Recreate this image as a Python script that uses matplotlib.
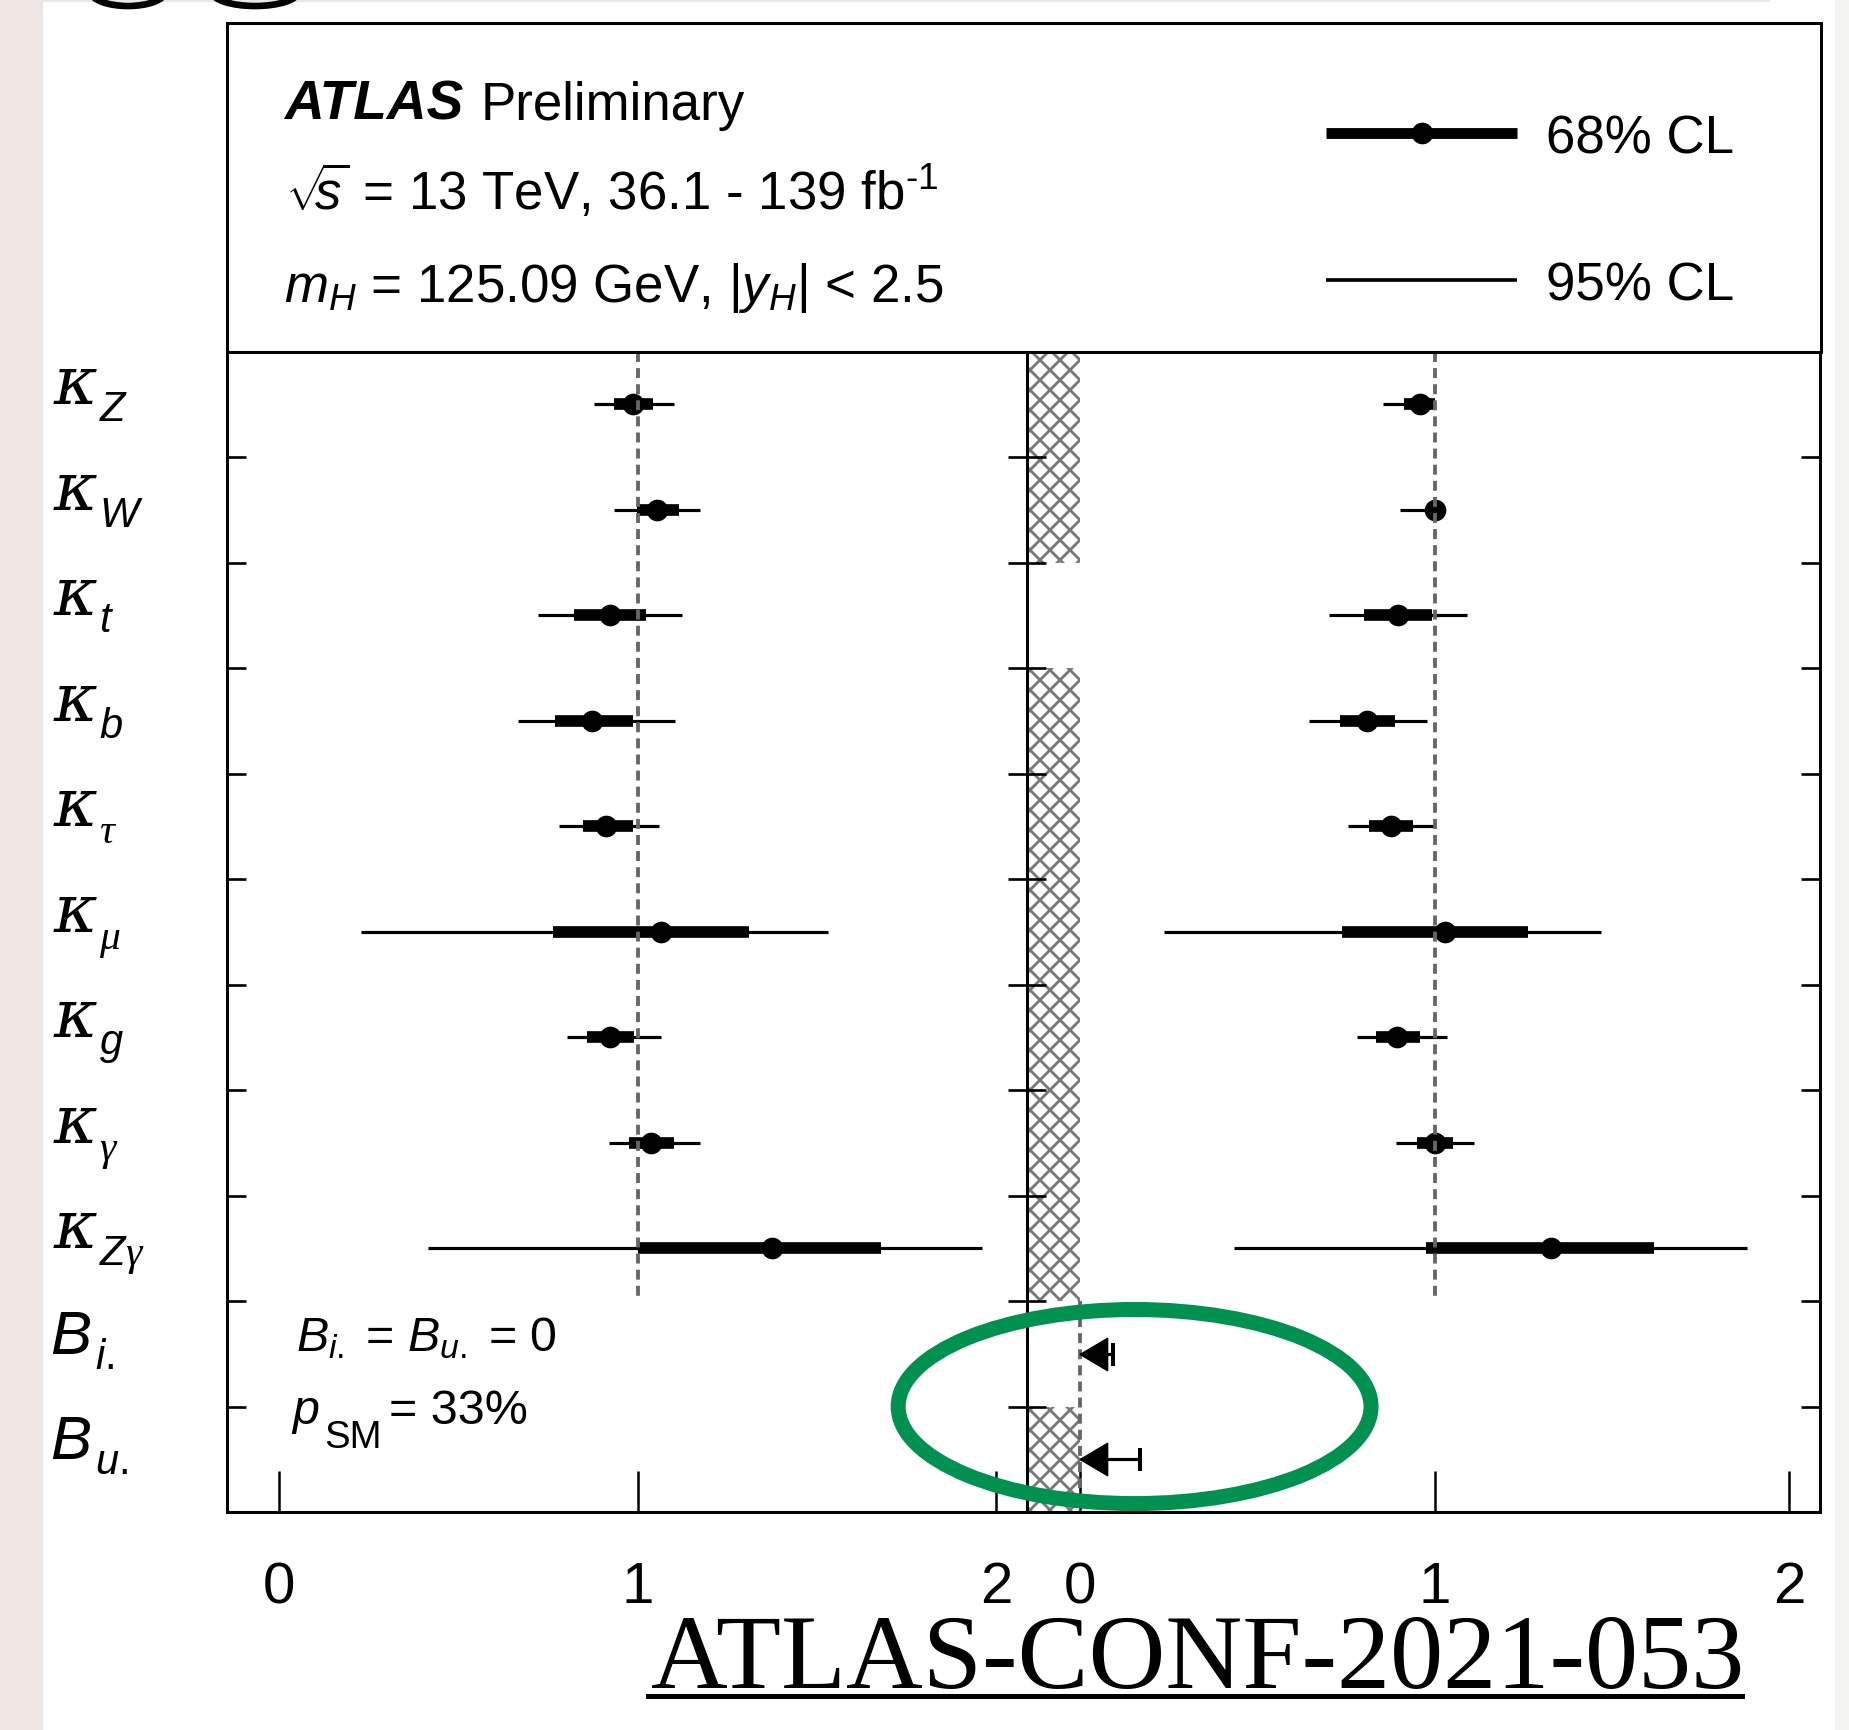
import matplotlib
matplotlib.use("Agg")
import matplotlib.pyplot as plt
import numpy as np
from matplotlib.patches import Ellipse, Rectangle, Arc
from matplotlib.lines import Line2D
from matplotlib.path import Path
from matplotlib.transforms import blended_transform_factory

plt.rcParams["font.family"] = ["Liberation Sans", "DejaVu Sans"]
plt.rcParams["mathtext.fontset"] = "custom"
plt.rcParams["mathtext.rm"] = "Liberation Sans"
plt.rcParams["mathtext.it"] = "Liberation Sans:italic"
plt.rcParams["mathtext.bf"] = "Liberation Sans:bold"
plt.rcParams["mathtext.cal"] = "Liberation Serif:italic"
plt.rcParams["hatch.linewidth"] = 1.7
plt.rcParams["hatch.color"] = "#787878"

# ---- data ----
label_main = ["κ"] * 9 + ["B", "B"]
label_sub = [r"$Z$", r"$W$", r"$t$", r"$b$", r"$\mathcal{\tau}$", r"$\mathcal{\mu}$",
             r"$g$", r"$\mathcal{\gamma}$", r"$Z\mathcal{\gamma}$", r"$i.$", r"$u.$"]

# left panel: B_i. = B_u. = 0
left_best = [0.988, 1.054, 0.924, 0.873, 0.912, 1.066, 0.922, 1.036, 1.374]
left_lo68 = [0.935, 0.997, 0.823, 0.769, 0.848, 0.764, 0.858, 0.977, 1.000]
left_hi68 = [1.043, 1.114, 1.022, 0.986, 0.988, 1.310, 0.990, 1.102, 1.679]
left_lo95 = [0.879, 0.935, 0.721, 0.666, 0.780, 0.229, 0.802, 0.919, 0.415]
left_hi95 = [1.102, 1.175, 1.125, 1.104, 1.060, 1.530, 1.066, 1.173, 1.961]

# right panel: B_i., B_u. free
right_best = [0.959, 1.000, 0.897, 0.809, 0.878, 1.030, 0.894, 1.000, 1.328]
right_lo68 = [0.913, 0.985, 0.800, 0.732, 0.816, 0.738, 0.835, 0.951, 0.976]
right_hi68 = [1.000, 1.000, 0.994, 0.889, 0.940, 1.264, 0.959, 1.053, 1.620]
right_lo95 = [0.855, 0.902, 0.702, 0.646, 0.755, 0.236, 0.780, 0.891, 0.435]
right_hi95 = [1.000, 1.000, 1.092, 0.979, 0.997, 1.470, 1.035, 1.111, 1.882]

b_best = [0.0, 0.0]
b_upper95 = [0.093, 0.167]

# rows with the hatched (excluded) region in the right panel
hatched = [True, True, False, True, True, True, True, True, True, False, True]

x_ticks = [0, 1, 2]
sm_value = 1.0

# ---- figure ----
W, H, DPI = 1849, 1730, 120
fig = plt.figure(figsize=(W / DPI, H / DPI), dpi=DPI)

# page background bits around the cut-out
fig.add_artist(Rectangle((0, 0), 43 / W, 1, transform=fig.transFigure,
                         color="#efe6e4", lw=0, zorder=0))
fig.add_artist(Rectangle((43 / W, 1 - 2 / H), (1770 - 43) / W, 2 / H,
                         transform=fig.transFigure, color="#efe6e4", lw=0, zorder=0))
fig.add_artist(Rectangle((1835 / W, 0), 14 / W, 1, transform=fig.transFigure,
                         color="#f4f4f0", lw=0, zorder=0))
# bottoms of glyphs cut off at the top edge of the page crop
for cx, half in ((128, 37), (255, 43)):
    fig.add_artist(Arc((cx / W, 1 + 8 / H), 2 * half / W, 28 / H, theta1=180,
                       theta2=360, transform=fig.transFigure, color="black", lw=4))

n_rows = len(label_main)
n_kappa = len(left_best)
y = np.arange(n_rows) + 0.5

ax_l = fig.add_axes([0.1225, 0.1260, 0.4329, 0.6707])
ax_r = fig.add_axes([0.5554, 0.1260, 0.4291, 0.6707])
ax_h = fig.add_axes([0.1225, 0.7967, 0.8621, 0.1898])

ax_l.set_xlim(-0.147, 2.086)
ax_r.set_xlim(-0.151, 2.089)

for ax in (ax_l, ax_r):
    ax.set_ylim(n_rows, 0)
    ax.set_xticks(x_ticks)
    ax.set_yticks(np.arange(1, n_rows))
    ax.set_yticklabels([])
    ax.tick_params(axis="x", direction="in", length=24.4, width=1.5,
                   labelsize=35, pad=29.5, top=False)
    ax.tick_params(axis="y", direction="in", length=11.5, width=1.6,
                   left=True, right=True)
    for sp in ax.spines.values():
        sp.set_linewidth(1.8)

ax_h.set_xticks([])
ax_h.set_yticks([])
for sp in ax_h.spines.values():
    sp.set_linewidth(1.8)


def draw_panel(ax, best, lo68, hi68, lo95, hi95):
    yk = y[:len(best)]
    ax.hlines(yk, lo95, hi95, color="black", lw=1.9, capstyle="butt", zorder=3)
    ax.hlines(yk, lo68, hi68, color="black", lw=7, capstyle="butt", zorder=3)
    ax.plot(best, yk, "o", color="black", ms=12, zorder=4)
    ax.vlines(sm_value, 0, len(best), colors="#666666",
              linestyles=(0, (2.6, 1.6)), lw=2.3, zorder=5)


draw_panel(ax_l, left_best, left_lo68, left_hi68, left_lo95, left_hi95)
draw_panel(ax_r, right_best, right_lo68, right_hi68, right_lo95, right_hi95)

# hatched region x < 0 in the right panel
xmin = ax_r.get_xlim()[0]
ax_r.barh(y[np.array(hatched)], 0 - xmin, left=xmin, height=1.0,
          facecolor="none", edgecolor="#787878", hatch="xx", lw=0, zorder=1)

# B_i., B_u. upper limits
yb = y[n_kappa:]
ax_r.vlines(0, n_kappa, n_rows, colors="#666666",
            linestyles=(0, (2.6, 1.6)), lw=2.3, zorder=2)
ax_r.hlines(yb, b_best, b_upper95, color="black", lw=1.9, zorder=3)
ax_r.plot(b_upper95, yb, "|", ms=13.8, mew=2.4, color="black", zorder=3)
arrow = Path([(0, 0), (27, 16), (27, -16), (0, 0)],
             [Path.MOVETO, Path.LINETO, Path.LINETO, Path.CLOSEPOLY])
ax_r.plot(b_best, yb, ls="none", marker=arrow, ms=32.4, color="black", zorder=4)

# row labels: big symbol + lowered subscript
trans = blended_transform_factory(fig.transFigure, ax_l.transData)
for yi, main, sub in zip(y, label_main, label_sub):
    if main == "κ":
        ax_l.text(54 / W, yi, main, transform=trans, fontsize=40,
                  family="DejaVu Serif", style="italic",
                  ha="left", va="baseline", clip_on=False)
        ax_l.text(99 / W, yi + 0.16, sub, transform=trans, fontsize=25,
                  ha="left", va="baseline", clip_on=False)
    else:
        ax_l.text(50 / W, yi, main, transform=trans, fontsize=37,
                  style="italic", ha="left", va="baseline", clip_on=False)
        ax_l.text(95 / W, yi + 0.14, sub, transform=trans, fontsize=25,
                  ha="left", va="baseline", clip_on=False)

# in-plot note
ax_l.text(0.048, 9.48, r"$B_{i.}$ = $B_{u.}$ = 0", fontsize=29, va="baseline")
ax_l.text(0.037, 10.17, "p", fontsize=29, style="italic", va="baseline")
ax_l.text(0.1255, 10.39, "SM", fontsize=23, va="baseline")
ax_l.text(0.306, 10.17, "= 33%", fontsize=29, va="baseline")

# header
fs = 31.7
ax_h.text(0.036, 0.706, "ATLAS", transform=ax_h.transAxes, fontsize=33,
          weight="bold", style="italic", va="baseline")
ax_h.text(0.1597, 0.706, "Preliminary", transform=ax_h.transAxes, fontsize=fs,
          va="baseline")
ax_h.text(0.037, 0.431, r"$\sqrt{\!\!s}$ = 13 TeV, 36.1 - 139 fb$^{\text{-1}}$",
          transform=ax_h.transAxes, fontsize=fs, va="baseline")
ax_h.text(0.036, 0.151, r"$m_{H}$ = 125.09 GeV, |$y_{H}$| < 2.5",
          transform=ax_h.transAxes, fontsize=fs, va="baseline")

# legend keys
ax_h.plot([0.690, 0.8096], [0.666, 0.666], color="black", lw=6.5,
          solid_capstyle="butt", transform=ax_h.transAxes)
ax_h.plot([0.750], [0.666], "o", color="black", ms=12, transform=ax_h.transAxes)
ax_h.plot([0.690, 0.8096], [0.218, 0.218], color="black", lw=2.2,
          solid_capstyle="butt", transform=ax_h.transAxes)
ax_h.text(0.828, 0.605, "68% CL", transform=ax_h.transAxes, fontsize=fs,
          va="baseline")
ax_h.text(0.828, 0.157, "95% CL", transform=ax_h.transAxes, fontsize=fs,
          va="baseline")

# green ring around the B limits
ax_r.add_patch(Ellipse((0.153, 10.0), 1.335, 1.84, fill=False, ec="#009150",
                       lw=9, clip_on=False, zorder=10))

# document reference, underlined
conf = fig.text(650.5 / W, 1 - 1688 / H, "ATLAS-CONF-2021-053", fontsize=63.8,
                family="Liberation Serif", va="baseline", ha="left")
fig.canvas.draw()
bb = conf.get_window_extent()
fig.add_artist(Line2D([(bb.x0 - 3) / W, (bb.x1 - 2) / W],
                      [1 - 1696 / H, 1 - 1696 / H], transform=fig.transFigure,
                      color="black", lw=3))

fig.savefig("out.png", dpi=DPI)
